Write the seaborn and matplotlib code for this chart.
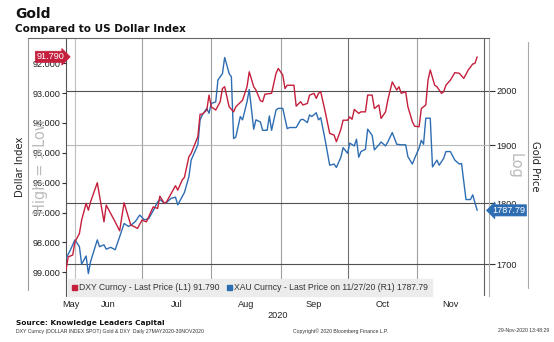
import numpy as np
import pandas as pd
import matplotlib
matplotlib.use("Agg")
import matplotlib.pyplot as plt
import matplotlib.dates as mdates
import matplotlib.transforms as mtransforms
from matplotlib.lines import Line2D
from matplotlib.ticker import FixedLocator, FuncFormatter, NullLocator, NullFormatter
import seaborn as sns

# ---------------- data ----------------
dxy_dates = [
    '05-27', '05-28', '05-30', '05-31', '06-02', '06-03', '06-05', '06-06', '06-07', '06-10',
    '06-13', '06-14', '06-16', '06-18', '06-20', '06-22', '06-25', '06-26', '06-28', '06-30',
    '07-02', '07-05', '07-07', '07-08', '07-10', '07-11', '07-15', '07-16', '07-18', '07-19',
    '07-21', '07-22', '07-25', '07-26', '07-27', '07-29', '07-30', '07-31', '08-02', '08-04',
    '08-05', '08-06', '08-08', '08-10', '08-11', '08-14', '08-16', '08-17', '08-19', '08-20',
    '08-22', '08-23', '08-24', '08-27', '08-29', '08-30', '09-01', '09-02', '09-03', '09-06',
    '09-07', '09-09', '09-10', '09-12', '09-13', '09-15', '09-16', '09-17', '09-18', '09-20',
    '09-22', '09-24', '09-25', '09-27', '09-28', '09-30', '10-01', '10-02', '10-03', '10-05',
    '10-06', '10-08', '10-09', '10-11', '10-12', '10-14', '10-15', '10-17', '10-18', '10-20',
    '10-22', '10-23', '10-24', '10-26', '10-27', '10-29', '10-30', '11-01', '11-02', '11-04',
    '11-05', '11-06', '11-08', '11-09', '11-11', '11-12', '11-13', '11-15', '11-17', '11-19',
    '11-21', '11-23', '11-25', '11-26', '11-27']
dxy_values = [
    98.92, 98.48, 98.42, 97.98, 97.70, 97.25, 96.69, 96.92, 96.64, 96.00,
    97.31, 96.75, 97.03, 97.31, 97.61, 96.67, 97.42, 97.45, 97.53, 97.25,
    97.31, 96.81, 96.86, 96.45, 96.69, 96.64, 96.10, 96.25, 95.91, 95.82,
    95.13, 95.02, 94.46, 93.71, 93.71, 93.57, 93.07, 93.46, 93.57, 93.29,
    92.85, 92.79, 93.46, 93.63, 93.46, 93.24, 92.79, 92.29, 92.79, 92.90,
    93.26, 93.29, 93.04, 93.01, 92.34, 92.18, 92.40, 92.85, 92.74, 92.74,
    93.44, 93.29, 93.40, 93.35, 93.07, 93.01, 93.18, 93.01, 92.96, 93.63,
    94.35, 94.41, 94.63, 94.22, 93.91, 93.91, 93.80, 93.88, 93.55, 93.68,
    93.63, 93.63, 93.07, 93.07, 93.52, 93.40, 93.85, 93.63, 93.24, 92.63,
    92.90, 92.79, 93.01, 92.96, 93.46, 93.96, 94.11, 94.13, 93.52, 93.40,
    92.57, 92.23, 92.74, 92.79, 93.01, 92.96, 92.74, 92.57, 92.32, 92.34,
    92.51, 92.23, 92.03, 92.01, 91.79]

gold_dates = [
    '05-27', '05-29', '05-31', '06-02', '06-03', '06-05', '06-06', '06-07', '06-10', '06-11',
    '06-13', '06-14', '06-16', '06-17', '06-18', '06-20', '06-22', '06-24', '06-25', '06-27',
    '06-29', '07-01', '07-03', '07-05', '07-07', '07-08', '07-10', '07-11', '07-13', '07-15',
    '07-16', '07-18', '07-19', '07-21', '07-22', '07-25', '07-26', '07-27', '07-29', '07-30',
    '07-31', '08-02', '08-03', '08-05', '08-06', '08-07', '08-08', '08-09', '08-10', '08-11',
    '08-13', '08-14', '08-16', '08-17', '08-19', '08-20', '08-22', '08-23', '08-25', '08-26',
    '08-27', '08-29', '08-30', '09-01', '09-03', '09-04', '09-07', '09-09', '09-10', '09-12',
    '09-13', '09-14', '09-16', '09-17', '09-18', '09-20', '09-22', '09-24', '09-25', '09-27',
    '09-28', '09-30', '10-01', '10-03', '10-04', '10-05', '10-06', '10-08', '10-09', '10-11',
    '10-12', '10-14', '10-15', '10-17', '10-18', '10-20', '10-22', '10-24', '10-26', '10-27',
    '10-29', '10-30', '11-01', '11-02', '11-03', '11-04', '11-06', '11-07', '11-09', '11-10',
    '11-12', '11-13', '11-15', '11-17', '11-19', '11-20', '11-22', '11-24', '11-25', '11-27']
gold_values = [
    1709, 1723, 1739, 1728, 1700, 1713, 1685, 1704, 1739, 1728,
    1731, 1724, 1727, 1725, 1723, 1744, 1766, 1761, 1763, 1769,
    1780, 1772, 1774, 1787, 1802, 1806, 1800, 1801, 1808, 1810,
    1797, 1811, 1818, 1845, 1874, 1901, 1946, 1955, 1967, 1958,
    1976, 1979, 2020, 2032, 2063, 2048, 2032, 2026, 1912, 1915,
    1952, 1946, 1979, 2002, 1929, 1946, 1942, 1927, 1927, 1953,
    1927, 1964, 1967, 1967, 1930, 1932, 1932, 1946, 1947, 1941,
    1955, 1952, 1959, 1946, 1950, 1909, 1865, 1867, 1861, 1879,
    1896, 1886, 1904, 1899, 1911, 1879, 1889, 1893, 1929, 1918,
    1892, 1901, 1906, 1899, 1906, 1923, 1902, 1901, 1901, 1880,
    1867, 1877, 1895, 1909, 1902, 1949, 1949, 1862, 1874, 1865,
    1877, 1889, 1889, 1874, 1867, 1868, 1806, 1806, 1814, 1787.79]

month_labels = ['May', 'Jun', 'Jul', 'Aug', 'Sep', 'Oct', 'Nov']
dxy_ticks = [92, 93, 94, 95, 96, 97, 98, 99]
gold_ticks = [1700, 1800, 1900, 2000]
legend_labels = ['DXY Curncy - Last Price (L1) 91.790',
                 'XAU Curncy - Last Price on 11/27/20 (R1) 1787.79']
dxy_last_label = '91.790'
gold_last_label = '1787.79'

RED = '#c41f3c'
BLUE = '#2e6db2'

# ---------------- style ----------------
sns.set_theme(style='white')
plt.rcParams['font.family'] = ['DejaVu Sans']
SMALL = 'Liberation Sans'

W, H = 554, 342
def fx(px):
    return px / W
def fy(py):
    return 1 - py / H

fig = plt.figure(figsize=(W / 100, H / 100), dpi=100)
fig.patch.set_facecolor('white')

# watermark behind everything
fig.text(fx(40), fy(166), 'High = >Low', rotation=90, ha='center', va='center',
         fontsize=10.5, color='#bbbbbb', zorder=0)
fig.text(fx(515), fy(166), 'Log', rotation=270, ha='center', va='center',
         fontsize=10.5, color='#bbbbbb', zorder=0)

axG = fig.add_axes([fx(66), fy(296), fx(489) - fx(66), fy(38) - fy(296)])
axG.patch.set_alpha(0)
axD = axG.twinx()
axG.yaxis.tick_right()
axG.yaxis.set_label_position('right')
axD.yaxis.tick_left()
axD.yaxis.set_label_position('left')

dxy_df = pd.DataFrame({'date': pd.to_datetime(['2020-' + d for d in dxy_dates]),
                       'value': dxy_values})
gold_df = pd.DataFrame({'date': pd.to_datetime(['2020-' + d for d in gold_dates]),
                        'value': gold_values})

sns.lineplot(data=gold_df, x='date', y='value', ax=axG, color=BLUE, lw=1.0,
             legend=False, zorder=3)
sns.lineplot(data=dxy_df, x='date', y='value', ax=axD, color=RED, lw=1.0,
             legend=False, zorder=3)

x0 = pd.Timestamp('2020-05-27')
x1 = pd.Timestamp('2020-12-02 07:00')
axG.set_xlim(x0, x1)

# right (gold) axis - log
axG.set_yscale('log')
axG.set_ylim(1650, 2101)
axG.yaxis.set_major_locator(FixedLocator(gold_ticks))
axG.yaxis.set_major_formatter(FuncFormatter(lambda v, p: f'{v:.0f}'))
axG.yaxis.set_minor_locator(NullLocator())
axG.yaxis.set_minor_formatter(NullFormatter())

# left (dxy) axis - inverted
axD.set_ylim(99.79, 91.16)
axD.yaxis.set_major_locator(FixedLocator(dxy_ticks))
axD.yaxis.set_major_formatter(FuncFormatter(lambda v, p: f'{v:.3f}'))
axD.yaxis.set_minor_locator(NullLocator())

for lab in axD.get_yticklabels() + axG.get_yticklabels():
    lab.set_fontfamily(SMALL)
axD.tick_params(axis='y', which='major', length=3, width=0.8, pad=1, color='#333333',
                labelsize=6.6, labelcolor='#222222')
axG.tick_params(axis='y', which='major', length=4, width=0.8, pad=1.5, color='#333333',
                labelsize=6.6, labelcolor='#222222')

# x axis: gridlines at month ends, labels centred within months
month_ends = pd.date_range('2020-05-31', '2020-11-30', freq=pd.offsets.MonthEnd())
bounds = [x0] + list(month_ends)
centers = [bounds[i] + (bounds[i + 1] - bounds[i]) / 2 for i in range(len(month_labels))]
axG.xaxis.set_major_locator(FixedLocator(mdates.date2num(month_ends)))
axG.xaxis.set_major_formatter(NullFormatter())
axG.xaxis.set_minor_locator(FixedLocator(mdates.date2num(centers)))
axG.xaxis.set_minor_formatter(FuncFormatter(lambda v, p: month_labels[p] if p < len(month_labels) else ''))
axG.tick_params(axis='x', which='both', length=0, pad=3, labelsize=6.6, labelcolor='#222222')
for lab in axG.get_xticklabels(minor=True):
    lab.set_fontfamily(SMALL)
axG.set_xlabel('2020', fontsize=6.6, family=SMALL, labelpad=1, color='#222222')
axG.set_ylabel('')
axD.set_ylabel('')

# gridlines
axG.grid(True, axis='x', which='major', lw=0.8)
axG.grid(True, axis='y', which='major', lw=0.8)
vcolors = ['#c0c0c0', '#a0a0a0', '#a0a0a0', '#a0a0a0', '#707070', '#a0a0a0', '#606060']
for gl, c in zip(axG.xaxis.get_gridlines(), vcolors):
    gl.set_color(c)
hcolors = ['#505050', '#505050', '#b8b8b8', '#505050']
for gl, c in zip(axG.yaxis.get_gridlines(), hcolors):
    gl.set_color(c)

# spines
for s in axD.spines.values():
    s.set_visible(False)
axG.spines['bottom'].set_visible(False)
axG.spines['left'].set_color('#555555')
axG.spines['top'].set_color('#666666')
axG.spines['right'].set_color('#b0b0b0')
for s in ['left', 'top', 'right']:
    axG.spines[s].set_linewidth(0.8)

# last-value tags
trD = mtransforms.blended_transform_factory(axD.transAxes, axD.transData)
axD.text(-0.004, dxy_values[-1], dxy_last_label, transform=trD, ha='right', va='center',
         color='white', fontsize=6.6, family=SMALL, zorder=10, clip_on=False,
         bbox=dict(boxstyle='rarrow,pad=0.12', fc=RED, ec=RED, lw=0.5))
trG = mtransforms.blended_transform_factory(axG.transAxes, axG.transData)
axG.text(1.008, gold_values[-1], gold_last_label, transform=trG, ha='left', va='center',
         color='white', fontsize=6.6, family=SMALL, zorder=10, clip_on=False,
         bbox=dict(boxstyle='larrow,pad=0.12', fc=BLUE, ec=BLUE, lw=0.5))

# legend
handles = [Line2D([], [], marker='s', ls='none', color=RED, markersize=3.6),
           Line2D([], [], marker='s', ls='none', color=BLUE, markersize=3.6)]
leg = axD.legend(handles, legend_labels, loc='lower left',
                 bbox_to_anchor=(fx(68), fy(296)), bbox_transform=fig.transFigure,
                 ncol=2, frameon=True, fancybox=False, borderaxespad=0,
                 prop={'family': SMALL, 'size': 6.2},
                 handlelength=0.6, handletextpad=0.25, columnspacing=0.8,
                 borderpad=0.45)
leg.get_frame().set_facecolor('#ececec')
leg.get_frame().set_edgecolor('#ececec')
leg.get_frame().set_alpha(1)
for t in leg.get_texts():
    t.set_color('#333333')

# outer frame lines
fig.add_artist(Line2D([fx(28), fx(28)], [fy(38), fy(290)], color='#9a9a9a', lw=0.8))
fig.add_artist(Line2D([fx(28), fx(66)], [fy(38), fy(38)], color='#666666', lw=0.8))
fig.add_artist(Line2D([fx(528), fx(528)], [fy(42), fy(288)], color='#a8a8a8', lw=0.8))

# axis titles
fig.text(fx(20), fy(167), 'Dollar Index', rotation=90, ha='center', va='center',
         fontsize=7.2, color='#222222')
fig.text(fx(535), fy(166), 'Gold Price', rotation=270, ha='center', va='center',
         fontsize=7.2, color='#222222')

# titles
fig.text(fx(15), fy(18), 'Gold', fontsize=10, fontweight='bold', ha='left', va='baseline',
         color='#111111')
fig.text(fx(15), fy(31.5), 'Compared to US Dollar Index', fontsize=7.5, fontweight='bold',
         ha='left', va='baseline', color='#111111')

# footer
fig.text(fx(16), fy(325.5), 'Source: Knowledge Leaders Capital', fontsize=5.3,
         fontweight='bold', ha='left', va='baseline', color='#111111')
fig.text(fx(16), fy(332.5), 'DXY Curncy (DOLLAR INDEX SPOT) Gold & DXY  Daily 27MAY2020-30NOV2020',
         fontsize=3.7, family=SMALL, ha='left', va='baseline', color='#333333')
fig.text(fx(293), fy(332.5), 'Copyright\u00a9 2020 Bloomberg Finance L.P.',
         fontsize=3.7, family=SMALL, ha='left', va='baseline', color='#333333')
fig.text(fx(549), fy(332.5), '29-Nov-2020 13:48:29',
         fontsize=3.7, family=SMALL, ha='right', va='baseline', color='#333333')

fig.savefig('out.png', dpi=100, facecolor='white')
